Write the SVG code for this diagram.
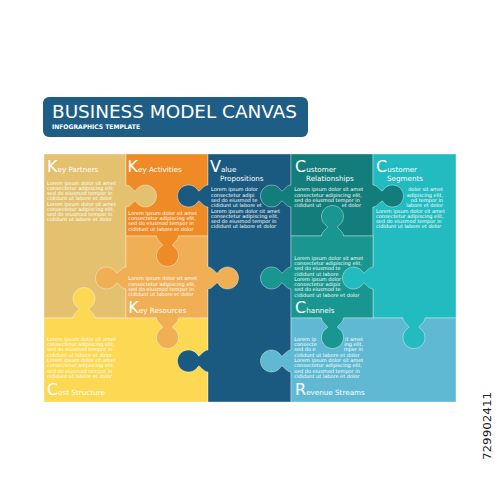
<svg xmlns="http://www.w3.org/2000/svg" xmlns:xlink="http://www.w3.org/1999/xlink" width="500" height="500" viewBox="0 0 500 500">
<style>
.pc{stroke:#fff;stroke-opacity:.45;stroke-width:.8}
.kl{fill:none;stroke:#fff;stroke-opacity:.5;stroke-width:.8}
.kp{fill:#E3C16E}.ka{fill:#EF8B26}.kr{fill:#F0AE55}.cs{fill:#FCD853}
.vp{fill:#1B5A80}.cr{fill:#127D7A}.ch{fill:#18968F}.sg{fill:#21BBC0}.rs{fill:#60B9D3}
text{font-family:"DejaVu Sans","Liberation Sans",sans-serif;fill:#fff}
.h{font-size:7.2px}
.i{font-size:16px}
.l{font-size:5px}
</style>
<defs>
<path id="kf" d="M-1.5,-11 L0,-11 C5,-11 8.5,-2.9 10,-5.55 A11,11 0 1 1 10,5.55 C8.5,2.9 5,11 0,11 L-1.5,11 Z"/>
<path id="kline" d="M0,-11 C5,-11 8.5,-2.9 10,-5.55 A11,11 0 1 1 10,5.55 C8.5,2.9 5,11 0,11"/>
</defs>
<rect width="500" height="500" fill="#fff"/>

<g id="title">
<rect x="43" y="97" width="265" height="40" rx="6" fill="#1E5D85"/>
<text x="52" y="118" font-size="17" textLength="245" lengthAdjust="spacingAndGlyphs">BUSINESS MODEL CANVAS</text>
<text x="52" y="129" font-size="6.3" font-weight="bold" textLength="88" lengthAdjust="spacingAndGlyphs">INFOGRAPHICS TEMPLATE</text>
</g>

<g id="key-partners">
<rect class="pc kp" x="44" y="154" width="82" height="164"/>
<text class="h" x="47" y="172"><tspan class="i">K</tspan>ey Partners</text>
<g class="l">
<text x="47" y="184.6">Lorem ipsum dolor sit amet</text>
<text x="47" y="189.85">consectetur adipiscing elit,</text>
<text x="47" y="195.1">sed do eiusmod tempor in</text>
<text x="47" y="200.35">cididunt ut labore et dolor</text>
<text x="47" y="205.6">Lorem ipsum dolor sit amet</text>
<text x="47" y="210.85">consectetur adipiscing elit,</text>
<text x="47" y="216.1">sed do eiusmod tempor in</text>
<text x="47" y="221.35">cididunt ut labore et dolor</text>
</g>
</g>

<g id="key-activities">
<rect class="pc ka" x="126" y="154" width="82" height="82"/>
<text class="h" x="127.5" y="172"><tspan class="i">K</tspan>ey Activities</text>
<g class="l">
<text x="128.3" y="214.6">Lorem ipsum dolor sit amet</text>
<text x="128.3" y="219.9">consectetur adipiscing elit,</text>
<text x="128.3" y="225.2">sed do eiusmod tempor in</text>
<text x="128.3" y="230.5">cididunt ut labore et dolor</text>
</g>
</g>

<g id="key-resources">
<rect class="pc kr" x="126" y="236" width="82" height="82"/>
<g class="l">
<text x="128.3" y="280.3">Lorem ipsum dolor sit amet</text>
<text x="128.3" y="285.6">consectetur adipiscing elit,</text>
<text x="128.3" y="290.9">sed do eiusmod tempor in</text>
<text x="128.3" y="296.2">cididunt ut labore et dolor</text>
</g>
<text class="h" x="128.3" y="313.3"><tspan class="i">K</tspan>ey Resources</text>
</g>

<g id="cost-structure">
<rect class="pc cs" x="44" y="318" width="164" height="84"/>
<g class="l">
<text x="47" y="340.6">Lorem ipsum dolor sit amet</text>
<text x="47" y="345.9">consectetur adipiscing elit,</text>
<text x="47" y="351.3">sed do eiusmod tempor in</text>
<text x="47" y="356.6">cididunt ut labore et dolor</text>
<text x="47" y="361.9">Lorem ipsum dolor sit amet</text>
<text x="47" y="367.3">consectetur adipiscing elit,</text>
<text x="47" y="372.6">sed do eiusmod tempor in</text>
<text x="47" y="377.9">cididunt ut labore et dolor</text>
</g>
<text class="h" x="47" y="395"><tspan class="i">C</tspan>ost Structure</text>
</g>

<g id="value-propositions">
<rect class="pc vp" x="208" y="154" width="83" height="248"/>
<text class="h" x="210" y="172"><tspan class="i">V</tspan>alue</text>
<text class="h" x="220" y="181">Propositions</text>
<g class="l">
<text x="211" y="191.3">Lorem ipsum dolor</text>
<text x="211" y="196.6">consectetur adipi</text>
<text x="211" y="201.9">sed do eiusmod te</text>
<text x="211" y="207.2">cididunt ut labore et</text>
<text x="211" y="212.5">Lorem ipsum dolor sit amet</text>
<text x="211" y="217.8">consectetur adipiscing elit,</text>
<text x="211" y="223.1">sed do eiusmod tempor in</text>
<text x="211" y="228.4">cididunt ut labore et dolor</text>
</g>
</g>

<g id="customer-relationships">
<rect class="pc cr" x="291" y="154" width="82" height="82"/>
<text class="h" x="295" y="172"><tspan class="i">C</tspan>ustomer</text>
<text class="h" x="306" y="181">Relationships</text>
<g class="l">
<text x="294.3" y="191.3">Lorem ipsum dolor sit amet</text>
<text x="294.3" y="196.6">consectetur adipiscing elit,</text>
<text x="294.3" y="201.9">sed do eiusmod tempor in</text>
<text x="294.3" y="207.2">cididunt ut</text>
<text x="361" y="207.2" text-anchor="end">et dolor</text>
</g>
</g>

<g id="customer-segments">
<rect class="pc sg" x="373" y="154" width="83" height="164"/>
<text class="h" x="376" y="172"><tspan class="i">C</tspan>ustomer</text>
<text class="h" x="387" y="181">Segments</text>
<g class="l">
<text x="443" y="191.3" text-anchor="end">dolor sit amet</text>
<text x="443" y="196.6" text-anchor="end">adipiscing elit,</text>
<text x="443" y="201.9" text-anchor="end">od tempor in</text>
<text x="443" y="207.2" text-anchor="end">labore et dolor</text>
<text x="376" y="212.5">Lorem ipsum dolor sit amet</text>
<text x="376" y="217.8">consectetur adipiscing elit,</text>
<text x="376" y="223.1">sed do eiusmod tempor in</text>
<text x="376" y="228.4">cididunt ut labore et dolor</text>
</g>
</g>

<g id="channels">
<rect class="pc ch" x="291" y="236" width="82" height="82"/>
<g class="l">
<text x="294.3" y="259.6">Lorem ipsum dolor sit amet</text>
<text x="294.3" y="264.9">consectetur adipiscing elit,</text>
<text x="294.3" y="270.2">sed do eiusmod te</text>
<text x="294.3" y="275.5">cididunt ut labore</text>
<text x="294.3" y="280.8">Lorem ipsum dolor</text>
<text x="294.3" y="286.1">consectetur adipis</text>
<text x="294.3" y="291.4">sed do eiusmod te</text>
<text x="294.3" y="296.7">cididunt ut labore et dolor</text>
</g>
<text class="h" x="295" y="313"><tspan class="i">C</tspan>hannels</text>
</g>

<g id="revenue-streams">
<rect class="pc rs" x="291" y="318" width="165" height="84"/>
<g class="l">
<text x="294.3" y="340.6">Lorem ip</text>
<text x="363" y="340.6" text-anchor="end">it amet</text>
<text x="294.3" y="345.9">consecte</text>
<text x="363" y="345.9" text-anchor="end">ing elit,</text>
<text x="294.3" y="351.3">sed do e</text>
<text x="363" y="351.3" text-anchor="end">mper in</text>
<text x="294.3" y="356.6">cididunt ut labore et dolor</text>
<text x="294.3" y="361.9">Lorem ipsum dolor sit amet</text>
<text x="294.3" y="367.3">consectetur adipiscing elit,</text>
<text x="294.3" y="372.6">sed do eiusmod tempor in</text>
<text x="294.3" y="377.9">cididunt ut labore et dolor</text>
</g>
<text class="h" x="295" y="395"><tspan class="i">R</tspan>evenue Streams</text>
</g>

<g id="connectors">
<g transform="translate(126,196)"><use href="#kf" class="kp"/><use href="#kline" class="kl"/></g>
<g transform="translate(208,196) rotate(180)"><use href="#kf" class="vp"/><use href="#kline" class="kl"/></g>
<g transform="translate(167.5,236) rotate(90)"><use href="#kf" class="ka"/><use href="#kline" class="kl"/></g>
<g transform="translate(126,278) rotate(180)"><use href="#kf" class="kr"/><use href="#kline" class="kl"/></g>
<g transform="translate(84,318) rotate(-90)"><use href="#kf" class="cs"/><use href="#kline" class="kl"/></g>
<g transform="translate(167.5,318) rotate(90)"><use href="#kf" class="kr"/><use href="#kline" class="kl"/></g>
<g transform="translate(208,361) rotate(180)"><use href="#kf" class="vp"/><use href="#kline" class="kl"/></g>
<g transform="translate(208,278)"><use href="#kf" class="kr"/><use href="#kline" class="kl"/></g>
<g transform="translate(291,196) rotate(180)"><use href="#kf" class="cr"/><use href="#kline" class="kl"/></g>
<g transform="translate(373,196)"><use href="#kf" class="cr"/><use href="#kline" class="kl"/></g>
<g transform="translate(332.5,236) rotate(-90)"><use href="#kf" class="ch"/><use href="#kline" class="kl"/></g>
<g transform="translate(291,278) rotate(180)"><use href="#kf" class="ch"/><use href="#kline" class="kl"/></g>
<g transform="translate(373,278) rotate(180)"><use href="#kf" class="sg"/><use href="#kline" class="kl"/></g>
<g transform="translate(332.5,318) rotate(90)"><use href="#kf" class="ch"/><use href="#kline" class="kl"/></g>
<g transform="translate(414,318) rotate(90)"><use href="#kf" class="sg"/><use href="#kline" class="kl"/></g>
<g transform="translate(291,361) rotate(180)"><use href="#kf" class="rs"/><use href="#kline" class="kl"/></g>
</g>

<text transform="translate(491,460) rotate(-90)" font-family="Liberation Sans, sans-serif" font-size="11" style="fill:#222" textLength="68" lengthAdjust="spacingAndGlyphs">729902411</text>
</svg>
